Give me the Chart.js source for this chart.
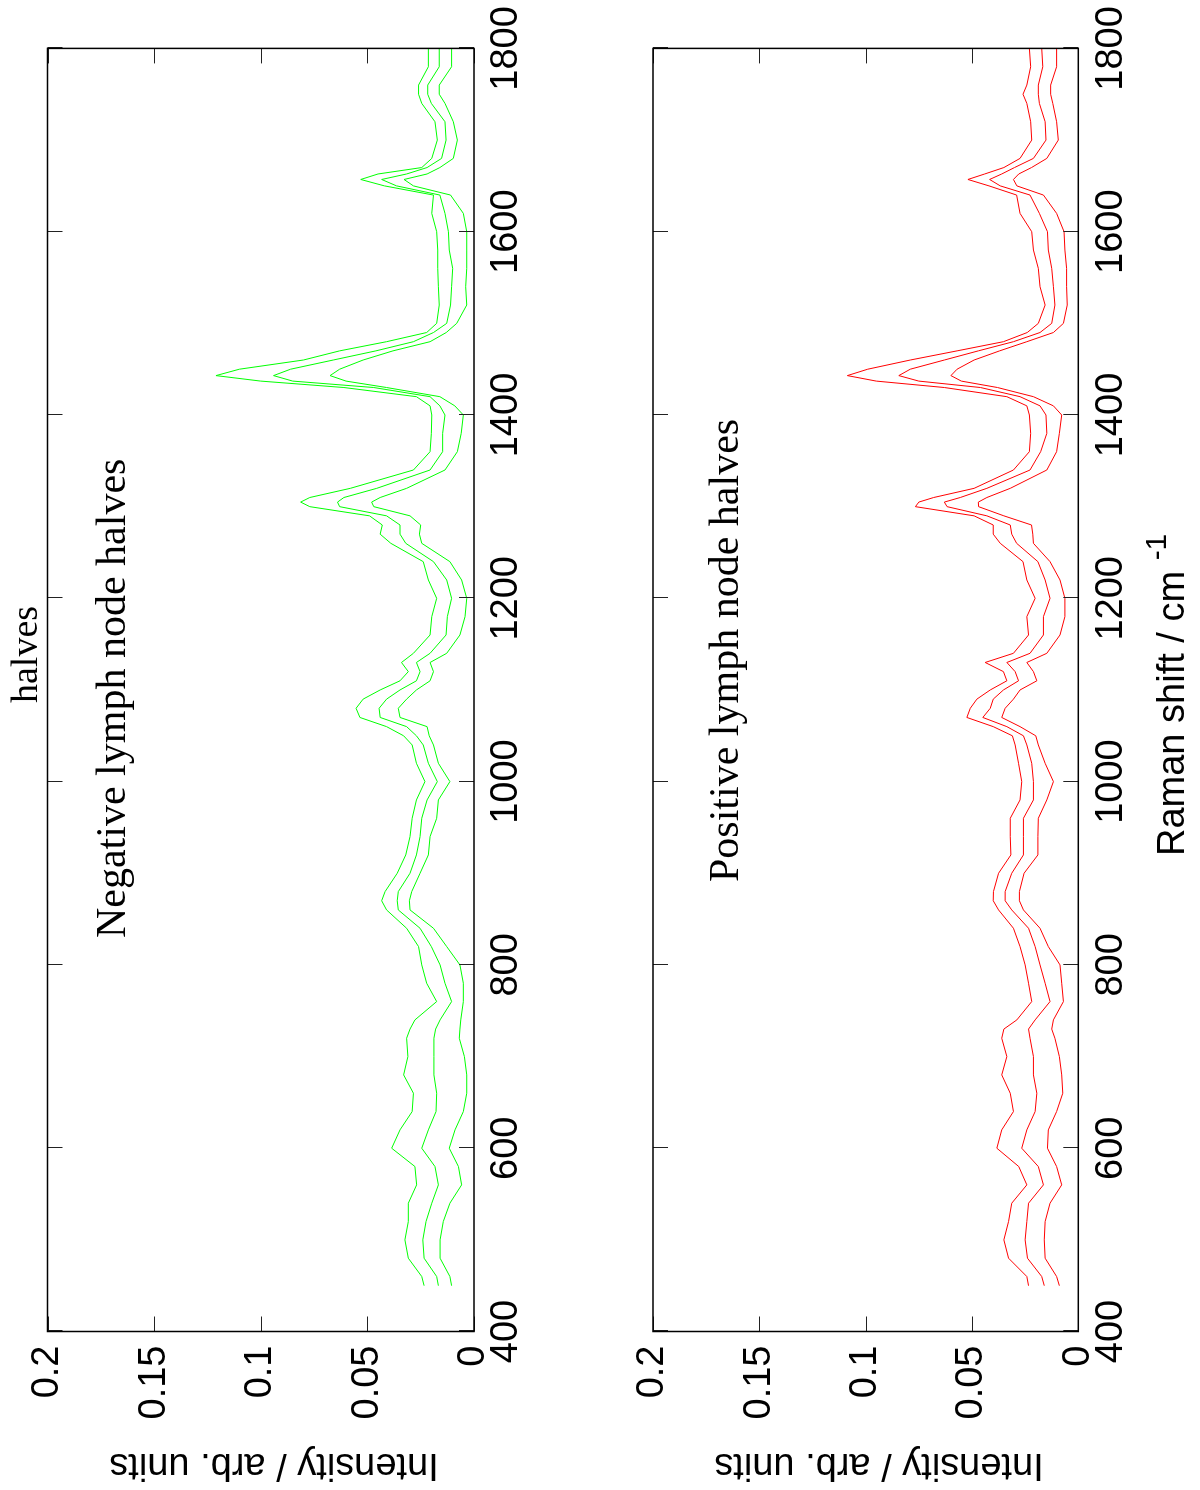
<!DOCTYPE html>
<html>
<head>
<meta charset="utf-8">
<script src="https://cdn.jsdelivr.net/npm/chart.js@4.4.1/dist/chart.umd.min.js"></script>
<style>
  html, body { margin: 0; padding: 0; background: #fff; }
  body { width: 1200px; height: 1490px; overflow: hidden; position: relative; }
  /* the figure is laid out landscape and turned a quarter turn counter-clockwise */
  #figure { position: absolute; left: 0; top: 0; width: 1490px; height: 1200px;
            transform-origin: 0 0; transform: translate(0, 1490px) rotate(-90deg); background: #fff; }
  .panel { position: absolute; left: 0; width: 1490px; height: 600px; }
  #negPanel { top: 0; }
  #posPanel { top: 600px; }
  canvas { display: block; }
</style>
</head>
<body>
<div id="figure">
  <div class="panel" id="negPanel"><canvas id="negChart" width="1490" height="600"></canvas></div>
  <div class="panel" id="posPanel"><canvas id="posChart" width="1490" height="600"></canvas></div>
</div>
<script>
// Raman shift (cm^-1) sampling points shared by every spectrum
const ramanShift = [
  450, 460, 480, 500, 520, 540, 560, 580, 600, 620,
  640, 660, 680, 700, 720, 730, 740, 760, 780, 800,
  820, 840, 860, 870, 880, 900, 920, 940, 960, 980,
  1000, 1020, 1040, 1050, 1060, 1070, 1080, 1090, 1100, 1110,
  1120, 1130, 1140, 1160, 1180, 1200, 1220, 1240, 1260, 1270,
  1280, 1290, 1300, 1305, 1310, 1320, 1340, 1360, 1380, 1400,
  1410, 1420, 1430, 1437, 1443, 1450, 1460, 1470, 1480, 1490,
  1500, 1520, 1540, 1560, 1580, 1600, 1620, 1640, 1650, 1657,
  1663, 1670, 1680, 1700, 1720, 1740, 1750, 1760, 1780, 1800
];

// Negative lymph node halves: upper, middle and lower spectra
const negUpper = [
  .0234, .0245, .0308, .0324, .0308, .0308, .0269, .0277, .0386, .0347,
  .0290, .0284, .0330, .0310, .0316, .0300, .0277, .0175, .0222, .0245,
  .0260, .0316, .0410, .0433, .0417, .0360, .0320, .0300, .0290, .0270,
  .0230, .0270, .0290, .0330, .0410, .0535, .0553, .0520, .0440, .0347,
  .0308, .0340, .0284, .0206, .0198, .0175, .0214, .0238, .0390, .0440,
  .0430, .0490, .0770, .0813, .0770, .0580, .0284, .0206, .0200, .0198,
  .0206, .0270, .0610, .1000, .1210, .1100, .0800, .0630, .0410, .0222,
  .0175, .0163, .0167, .0170, .0170, .0175, .0198, .0190, .0420, .0531,
  .0450, .0245, .0198, .0172, .0183, .0245, .0260, .0260, .0214, .0214
];
const negMean = [
  .0167, .0175, .0234, .0240, .0225, .0198, .0167, .0183, .0245, .0214,
  .0178, .0175, .0188, .0188, .0188, .0180, .0159, .0105, .0136, .0159,
  .0200, .0253, .0355, .0360, .0355, .0300, .0270, .0253, .0245, .0220,
  .0172, .0214, .0238, .0270, .0316, .0440, .0445, .0410, .0347, .0270,
  .0253, .0270, .0206, .0131, .0125, .0105, .0128, .0190, .0320, .0347,
  .0347, .0410, .0630, .0640, .0610, .0456, .0206, .0147, .0147, .0136,
  .0160, .0206, .0470, .0850, .0940, .0860, .0660, .0460, .0284, .0190,
  .0128, .0110, .0105, .0100, .0116, .0120, .0136, .0160, .0363, .0433,
  .0316, .0220, .0152, .0131, .0136, .0200, .0217, .0217, .0163, .0163
];
const negLower = [
  .0105, .0113, .0159, .0159, .0144, .0113, .0058, .0073, .0116, .0089,
  .0050, .0034, .0034, .0045, .0069, .0066, .0062, .0050, .0050, .0066,
  .0128, .0190, .0300, .0303, .0292, .0253, .0214, .0206, .0175, .0167,
  .0113, .0167, .0190, .0210, .0220, .0347, .0355, .0316, .0270, .0206,
  .0190, .0206, .0128, .0066, .0042, .0034, .0058, .0113, .0245, .0256,
  .0250, .0300, .0470, .0480, .0440, .0316, .0136, .0078, .0060, .0050,
  .0090, .0160, .0410, .0600, .0675, .0630, .0520, .0380, .0206, .0130,
  .0081, .0034, .0039, .0034, .0034, .0034, .0050, .0110, .0284, .0328,
  .0220, .0160, .0097, .0078, .0097, .0136, .0163, .0163, .0105, .0105
];

// Positive lymph node halves: upper, middle and lower spectra
const posUpper = [
  .0234, .0242, .0328, .0350, .0328, .0313, .0242, .0280, .0383, .0360,
  .0305, .0320, .0360, .0336, .0360, .0350, .0289, .0219, .0234, .0250,
  .0274, .0305, .0375, .0400, .0399, .0375, .0317, .0320, .0320, .0274,
  .0266, .0281, .0297, .0310, .0400, .0524, .0508, .0477, .0414, .0336,
  .0352, .0438, .0305, .0234, .0242, .0203, .0242, .0260, .0367, .0400,
  .0400, .0490, .0766, .0750, .0680, .0490, .0305, .0230, .0224, .0230,
  .0242, .0336, .0630, .0950, .1086, .0990, .0790, .0570, .0352, .0240,
  .0188, .0156, .0180, .0188, .0211, .0219, .0274, .0290, .0420, .0519,
  .0440, .0350, .0274, .0219, .0224, .0242, .0260, .0242, .0224, .0230
];
const posMean = [
  .0160, .0172, .0239, .0250, .0242, .0234, .0164, .0188, .0266, .0242,
  .0203, .0195, .0211, .0211, .0227, .0234, .0203, .0133, .0156, .0180,
  .0203, .0234, .0313, .0344, .0344, .0313, .0258, .0258, .0258, .0211,
  .0211, .0219, .0242, .0258, .0336, .0449, .0414, .0400, .0352, .0281,
  .0297, .0336, .0227, .0164, .0164, .0133, .0156, .0190, .0290, .0313,
  .0320, .0430, .0617, .0630, .0555, .0430, .0227, .0177, .0148, .0152,
  .0180, .0274, .0460, .0750, .0844, .0790, .0630, .0470, .0305, .0180,
  .0125, .0110, .0117, .0125, .0141, .0145, .0183, .0227, .0367, .0417,
  .0360, .0300, .0211, .0152, .0156, .0183, .0188, .0188, .0167, .0172
];
const posLower = [
  .0089, .0102, .0156, .0160, .0156, .0133, .0078, .0102, .0145, .0141,
  .0102, .0073, .0078, .0089, .0110, .0125, .0117, .0070, .0078, .0086,
  .0141, .0180, .0258, .0277, .0277, .0255, .0190, .0190, .0188, .0148,
  .0117, .0156, .0188, .0200, .0274, .0360, .0344, .0305, .0274, .0195,
  .0211, .0242, .0148, .0086, .0063, .0063, .0086, .0133, .0211, .0214,
  .0220, .0350, .0469, .0470, .0430, .0320, .0148, .0102, .0089, .0078,
  .0117, .0211, .0380, .0550, .0599, .0570, .0490, .0370, .0242, .0117,
  .0070, .0052, .0055, .0055, .0063, .0067, .0102, .0164, .0289, .0305,
  .0280, .0220, .0148, .0094, .0102, .0120, .0130, .0130, .0102, .0102
];

// axis ticks
const ramanTicks = [400, 600, 800, 1000, 1200, 1400, 1600, 1800];
const intensityTicks = [0, 0.05, 0.1, 0.15, 0.2];

const SANS = '"Liberation Sans", Arial, sans-serif';
const SERIF = '"Liberation Serif", "Times New Roman", serif';
const TICK_LEN = 15;

// closed frame with inward, mirrored tick marks
const frameTicks = {
  id: 'frameTicks',
  afterDraw(chart) {
    const { ctx, chartArea: a, scales: { x, y } } = chart;
    ctx.save();
    ctx.strokeStyle = '#222';
    ctx.lineWidth = 1;
    ctx.beginPath();
    x.ticks.forEach(t => {
      const p = Math.round(x.getPixelForValue(t.value)) + 0.5;
      ctx.moveTo(p, a.bottom); ctx.lineTo(p, a.bottom - TICK_LEN);
      ctx.moveTo(p, a.top); ctx.lineTo(p, a.top + TICK_LEN);
    });
    y.ticks.forEach(t => {
      const p = Math.round(y.getPixelForValue(t.value)) + 0.5;
      ctx.moveTo(a.left, p); ctx.lineTo(a.left + TICK_LEN, p);
      ctx.moveTo(a.right, p); ctx.lineTo(a.right - TICK_LEN, p);
    });
    ctx.stroke();
    ctx.strokeStyle = '#000';
    ctx.lineWidth = 1.5;
    ctx.strokeRect(a.left, a.top, a.right - a.left, a.bottom - a.top);
    ctx.restore();
  }
};

// free text: panel captions, axis titles, superscripts
const figureText = {
  id: 'figureText',
  afterDraw(chart, args, opts) {
    const ctx = chart.ctx;
    (opts.items || []).forEach(it => {
      ctx.save();
      ctx.fillStyle = '#000';
      ctx.font = it.font;
      ctx.textAlign = it.align || 'left';
      ctx.textBaseline = it.baseline || 'alphabetic';
      ctx.translate(it.x, it.y);
      if (it.rotation) ctx.rotate(it.rotation * Math.PI / 180);
      ctx.fillText(it.text, 0, 0);
      if (it.sup) {
        const w = ctx.measureText(it.text + ' ').width;
        ctx.font = it.supFont;
        ctx.fillText(it.sup, w, -it.supRise);
      }
      ctx.restore();
    });
  }
};

function series(values, color) {
  return {
    data: ramanShift.map((r, i) => ({ x: r, y: values[i] })),
    borderColor: color,
    borderWidth: 1,
    pointRadius: 0,
    tension: 0,
    fill: false
  };
}

function makeChart(id, sets, color, pad, xHeight, texts) {
  return new Chart(document.getElementById(id), {
    type: 'line',
    data: { datasets: sets.map(v => series(v, color)) },
    options: {
      responsive: false,
      animation: false,
      devicePixelRatio: 1,
      layout: { padding: pad },
      plugins: {
        legend: { display: false },
        tooltip: { enabled: false },
        figureText: { items: texts }
      },
      scales: {
        x: {
          type: 'linear',
          min: 400, max: 1800,
          afterBuildTicks: s => { s.ticks = ramanTicks.map(v => ({ value: v })); },
          ticks: {
            autoSkip: false, maxRotation: 0, minRotation: 0,
            padding: 10, color: '#000',
            font: { family: SANS, size: 38 },
            callback: v => String(v)
          },
          grid: { display: false, drawTicks: false },
          border: { display: false },
          afterFit: s => {
            s.height = xHeight;
            s.paddingLeft = 0; s.paddingRight = 0; s.paddingTop = 0; s.paddingBottom = 0;
          }
        },
        y: {
          type: 'linear',
          min: 0, max: 0.2,
          afterBuildTicks: s => { s.ticks = intensityTicks.map(v => ({ value: v })); },
          ticks: {
            padding: 14, color: '#000',
            font: { family: SANS, size: 38 },
            callback: v => String(+v.toFixed(2))
          },
          grid: { display: false, drawTicks: false },
          border: { display: false },
          afterFit: s => {
            s.width = 158.5;
            s.paddingLeft = 0; s.paddingRight = 0; s.paddingTop = 0; s.paddingBottom = 0;
          }
        }
      }
    },
    plugins: [frameTicks, figureText]
  });
}

makeChart('negChart', [negUpper, negMean, negLower], '#00ff00',
  { left: 0, right: 48.4, top: 47.5, bottom: 0 }, 126, [
    { text: 'halves', x: 787, y: 37, font: '38px ' + SERIF },
    { text: 'Negative lymph node halves', x: 552, y: 125, font: '42px ' + SERIF },
    { text: 'Intensity / arb. units', x: 26, y: 274, font: '38px ' + SANS,
      rotation: -90, align: 'center', baseline: 'middle' }
  ]);

makeChart('posChart', [posUpper, posMean, posLower], '#ff0000',
  { left: 0, right: 48.4, top: 53, bottom: 0 }, 121.7, [
    { text: 'Positive lymph node halves', x: 608, y: 138, font: '42px ' + SERIF },
    { text: 'Intensity / arb. units', x: 26, y: 279, font: '38px ' + SANS,
      rotation: -90, align: 'center', baseline: 'middle' },
    { text: 'Raman shift / cm', x: 634, y: 584, font: '38px ' + SANS,
      sup: '-1', supFont: '30px ' + SANS, supRise: 18 }
  ]);
</script>
</body>
</html>
